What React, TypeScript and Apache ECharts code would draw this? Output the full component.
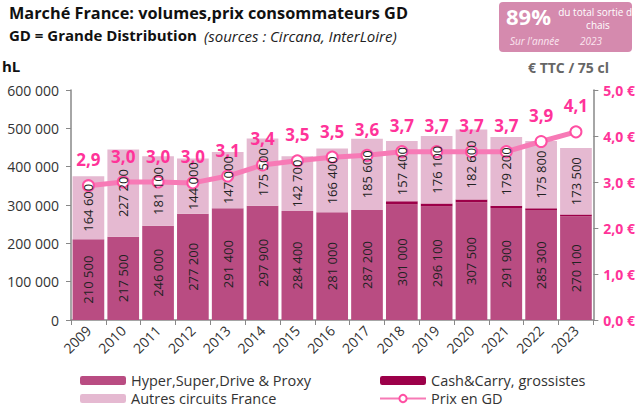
import React, { useEffect, useRef } from "react";
import * as echarts from "echarts";

const years = ["2009","2010","2011","2012","2013","2014","2015","2016","2017","2018","2019","2020","2021","2022","2023"];
const hyper = [210500,217500,246000,277200,291400,297900,284400,281000,287200,301000,296100,307500,291900,285300,270100];
const cashCarry = [0,0,0,0,0,0,0,0,0,8600,7800,7000,6100,6100,5200];
const autres = [164600,227200,181100,144000,147000,175500,142700,166400,185600,157400,176100,182600,179200,175800,173500];
const prix = [2.92,3.0,3.0,2.98,3.13,3.37,3.46,3.54,3.58,3.66,3.66,3.66,3.66,3.88,4.09];

const FONT = "Open Sans";
const fmtSpace = (v: number) => String(v).replace(/\B(?=(\d{3})+(?!\d))/g, " ");
const fmtDec = (v: number) => v.toFixed(1).replace(".", ",");

export default function App() {
  const ref = useRef<HTMLDivElement>(null);
  useEffect(() => {
    document.body.style.margin = "0";
    const chart = echarts.init(ref.current!, null, { renderer: "svg" });
    const barLabel = {
      show: true,
      position: "inside",
      rotate: 90,
      color: "#222",
      fontFamily: FONT,
      fontSize: 13,
      formatter: (p: any) => fmtSpace(p.value),
    };
    const clear = { color: "rgba(0,0,0,0)" };
    const legendText = { fontFamily: FONT, fontSize: 14.5, color: "#333", lineHeight: 15 };
    chart.setOption({
      animation: false,
      textStyle: { fontFamily: FONT },
      grid: { left: 71, right: 41, top: 90, bottom: 87 },
      legend: [
        {
          left: 80, top: 373, height: 60, padding: 0, orient: "vertical", itemGap: 3,
          itemWidth: 46, itemHeight: 9,
          textStyle: legendText,
          data: ["Hyper,Super,Drive & Proxy", "Autres circuits France"],
        },
        {
          left: 379, top: 373, height: 60, padding: 0, orient: "vertical", itemGap: 3,
          itemWidth: 46, itemHeight: 9,
          textStyle: legendText,
          data: ["Cash&Carry, grossistes", "Prix en GD"],
        },
      ],
      xAxis: {
        type: "category",
        data: years,
        axisLine: { lineStyle: { color: "#888", width: 1.5 } },
        axisTick: { show: true, lineStyle: { color: "#888" }, length: 5 },
        axisLabel: { rotate: 45, fontFamily: FONT, fontSize: 14, color: "#333", margin: 8 },
      },
      yAxis: [
        {
          type: "value", min: 0, max: 600000, interval: 100000,
          splitLine: { show: false },
          axisLine: { show: true, lineStyle: { color: "#888", width: 1.5 } },
          axisTick: { show: true, length: 5, lineStyle: { color: "#888" } },
          axisLabel: { formatter: fmtSpace, fontFamily: FONT, fontSize: 14, color: "#333", margin: 12 },
        },
        {
          type: "value", min: 0, max: 5, interval: 1,
          splitLine: { show: false },
          axisLine: { show: true, lineStyle: { color: "#888", width: 1.5 } },
          axisTick: { show: true, length: 5, lineStyle: { color: "#888" } },
          axisLabel: {
            formatter: (v: number) => fmtDec(v) + " €",
            fontFamily: FONT, fontSize: 14, fontWeight: "bold", color: "#ff3399", margin: 10,
          },
        },
      ],
      series: [
        {
          name: "Hyper,Super,Drive & Proxy", type: "bar", stack: "v", data: hyper,
          barCategoryGap: "9%", barGap: "-100%",
          itemStyle: { color: "#b94c82" },
        },
        {
          name: "Cash&Carry, grossistes", type: "bar", stack: "v", data: cashCarry,
          itemStyle: { color: "#9c0049" },
        },
        {
          name: "Autres circuits France", type: "bar", stack: "v", data: autres,
          itemStyle: { color: "#e5b9d1" },
        },
        {
          name: "Prix en GD", type: "line", yAxisIndex: 1, data: prix,
          lineStyle: { color: "#f77ab6", width: 5 },
          itemStyle: { color: "#fff", borderColor: "#ff4fa3", borderWidth: 2 },
          symbol: "circle", symbolSize: 11,
          z: 5,
          label: {
            show: true, position: "top", distance: 11,
            formatter: (p: any) => fmtDec(p.value),
            color: "#ff3399", fontFamily: FONT, fontSize: 17, fontWeight: "bold",
          },
        },
        {
          name: "lbl-hyper", type: "bar", stack: "lbl", data: hyper, z: 10,
          barGap: "-100%", itemStyle: clear, label: barLabel, silent: true,
        },
        {
          name: "lbl-cash", type: "bar", stack: "lbl", data: cashCarry, z: 10,
          itemStyle: clear, silent: true,
        },
        {
          name: "lbl-autres", type: "bar", stack: "lbl", data: autres, z: 10,
          itemStyle: clear, label: barLabel, silent: true,
        },
      ],
      graphic: [
        { type: "text", left: 9, top: 5, style: { text: "Marché France: volumes,prix consommateurs GD", fontFamily: FONT, fontSize: 16.3, fontWeight: "bold", fill: "#111" } },
        { type: "text", left: 9, top: 27, style: { text: "GD = Grande Distribution", fontFamily: FONT, fontSize: 15, fontWeight: "bold", fill: "#111" } },
        { type: "text", left: 204, top: 28, style: { text: "(sources : Circana, InterLoire)", fontFamily: FONT, fontSize: 15, fontStyle: "italic", fill: "#222" } },
        { type: "text", left: 2, top: 58, style: { text: "hL", fontFamily: FONT, fontSize: 15, fontWeight: "bold", fill: "#111" } },
        { type: "text", left: 528, top: 60, style: { text: "€ TTC / 75 cl", fontFamily: FONT, fontSize: 14, fontWeight: "bold", fill: "#666" } },
        { type: "rect", shape: { x: 499, y: 2, width: 133, height: 50, r: 4 }, style: { fill: "#d58aae" } },
        { type: "text", left: 506, top: 5, style: { text: "89%", fontFamily: FONT, fontSize: 22, fontWeight: "bold", fill: "#fff" } },
        { type: "text", x: 598, y: 5, style: { text: "du total sortie de\nchais", align: "center", fontFamily: FONT, fontSize: 10, lineHeight: 13, fill: "#fff" } },
        { type: "text", left: 510, top: 36, style: { text: "Sur l'année", fontFamily: FONT, fontSize: 10, fontStyle: "italic", fill: "#fbe6f0" } },
        { type: "text", left: 580, top: 36, style: { text: "2023", fontFamily: FONT, fontSize: 10, fontStyle: "italic", fill: "#fbe6f0" } },
      ],
    });
    return () => chart.dispose();
  }, []);
  return <div ref={ref} style={{ width: 638, height: 407 }} />;
}
